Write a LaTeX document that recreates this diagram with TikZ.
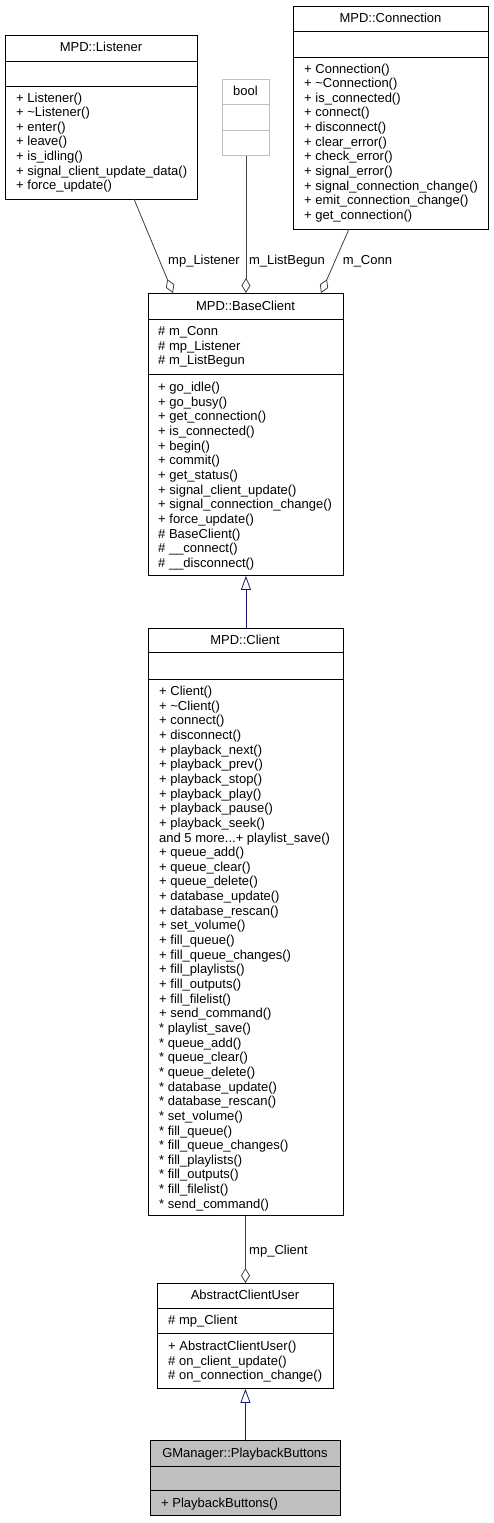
\documentclass[tikz,border=0pt]{standalone}
\usepackage{fontspec}
\setmainfont{Liberation Sans}
\usetikzlibrary{arrows.meta}
\definecolor{edgegray}{HTML}{404040}
\definecolor{inhblue}{HTML}{191970}
\definecolor{boolgray}{HTML}{BFBFBF}
\definecolor{hlgray}{HTML}{BFBFBF}
\newcommand\memlist[4]{%
  \foreach \t [count=\i] in {#4} {\node[mem] (#1\i) at (#2, {#3+(\i-1)*14.65}) {\t};}}
\begin{document}
\begin{tikzpicture}[x=1pt,y=-1pt,
  box/.style={draw=black,fill=white,line width=0.9pt,inner sep=0,anchor=north west},
  divl/.style={line width=0.9pt},
  mem/.style={font=\fontsize{13}{14}\selectfont,anchor=base west,inner sep=0},
  ttl/.style={font=\fontsize{13}{14}\selectfont,anchor=base,inner sep=0},
  lbl/.style={font=\fontsize{13}{14}\selectfont,anchor=base,inner sep=0},
  comp/.style={draw=edgegray,line width=0.8pt,-{Diamond[open,length=15pt,width=9pt,line width=0.8pt]}},
  inh/.style={draw=inhblue,line width=0.8pt,-{Triangle[open,length=14pt,width=10pt,line width=0.8pt]}}]
\useasboundingbox (0,0) rectangle (493,1523);

% MPD::Listener
\node[box,minimum width=192pt,minimum height=164pt] (listener) at (5,35) {};
\draw[divl] (5,61) -- (197,61) (5,86) -- (197,86);
\node[ttl] (listenerT) at (101,51.5) {MPD::Listener};
\memlist{lm}{16}{102}{+ Listener(),+ \textasciitilde{}Listener(),+ enter(),+ leave(),+ is\_idling(),+ signal\_client\_update\_data(),+ force\_update()}

% bool
\node[box,draw=boolgray,minimum width=47pt,minimum height=76pt] (bool) at (222,79) {};
\draw[divl,boolgray] (222,104.5) -- (269,104.5) (222,130) -- (269,130);
\node[ttl] (boolT) at (245.5,95.5) {bool};

% MPD::Connection
\node[box,minimum width=195pt,minimum height=223pt] (conn) at (293,6) {};
\draw[divl] (293,31) -- (488,31) (293,57) -- (488,57);
\node[ttl] (connT) at (390.5,22) {MPD::Connection};
\memlist{cm}{304}{73}{+ Connection(),+ \textasciitilde{}Connection(),+ is\_connected(),+ connect(),+ disconnect(),+ clear\_error(),+ check\_error(),+ signal\_error(),+ signal\_connection\_change(),+ emit\_connection\_change(),+ get\_connection()}

% MPD::BaseClient
\node[box,minimum width=195pt,minimum height=282pt] (base) at (148,293) {};
\draw[divl] (148,319) -- (343,319) (148,374) -- (343,374);
\node[ttl] (baseT) at (245.5,310.5) {MPD::BaseClient};
\memlist{ba}{158}{335.5}{\# m\_Conn,\# mp\_Listener,\# m\_ListBegun}
\memlist{bm}{158}{391.5}{+ go\_idle(),+ go\_busy(),+ get\_connection(),+ is\_connected(),+ begin(),+ commit(),+ get\_status(),+ signal\_client\_update(),+ signal\_connection\_change(),+ force\_update(),\# BaseClient(),\# \_\_connect(),\# \_\_disconnect()}

% MPD::Client
\node[box,minimum width=195pt,minimum height=587pt] (client) at (147.5,628) {};
\draw[divl] (147.5,652) -- (342.5,652) (147.5,679) -- (342.5,679);
\node[ttl] (clientT) at (245,644.5) {MPD::Client};
\memlist{clm}{159}{695.5}{+ Client(),+ \textasciitilde{}Client(),+ connect(),+ disconnect(),+ playback\_next(),+ playback\_prev(),+ playback\_stop(),+ playback\_play(),+ playback\_pause(),+ playback\_seek(),{and 5 more.{}.{}.+ playlist\_save()},+ queue\_add(),+ queue\_clear(),+ queue\_delete(),+ database\_update(),+ database\_rescan(),+ set\_volume(),+ fill\_queue(),+ fill\_queue\_changes(),+ fill\_playlists(),+ fill\_outputs(),+ fill\_filelist(),+ send\_command(),* playlist\_save(),* queue\_add(),* queue\_clear(),* queue\_delete(),* database\_update(),* database\_rescan(),* set\_volume(),* fill\_queue(),* fill\_queue\_changes(),* fill\_playlists(),* fill\_outputs(),* fill\_filelist(),* send\_command()}

% AbstractClientUser
\node[box,minimum width=176pt,minimum height=105pt] (acu) at (157,1283) {};
\draw[divl] (157,1308) -- (333,1308) (157,1333) -- (333,1333);
\node[ttl] (acuT) at (245,1299.5) {AbstractClientUser};
\memlist{aa}{168}{1324.5}{\# mp\_Client}
\memlist{am}{168}{1350.5}{+ AbstractClientUser(),\# on\_client\_update(),\# on\_connection\_change()}

% GManager::PlaybackButtons
\node[box,fill=hlgray,minimum width=190pt,minimum height=75pt] (pb) at (150,1440) {};
\draw[divl] (150,1466) -- (340,1466) (150,1490) -- (340,1490);
\node[ttl] (pbT) at (245,1457.5) {GManager::PlaybackButtons};
\memlist{pm}{161}{1507.5}{+ PlaybackButtons()}

% connectors
\coordinate (lisOut) at (134,199);
\coordinate (baseInL) at (173,293);
\coordinate (connOut) at (349,229);
\coordinate (baseInR) at (321,293);
\draw[comp] (lisOut) -- (baseInL);
\draw[comp] (bool.south) -- (bool.south |- base.north);
\draw[comp] (connOut) -- (baseInR);
\node[lbl] (l1) at (204,264.5) {mp\_Listener};
\node[lbl] (l2) at (287,264.5) {m\_ListBegun};
\node[lbl] (l3) at (367.5,264.5) {m\_Conn};

\draw[inh] (client.north -| base.south) -- (base.south);
\draw[comp] (client.south) -- (client.south |- acu.north);
\node[lbl] (l4) at (278.5,1254) {mp\_Client};
\draw[inh] (pb.north) -- (pb.north |- acu.south);
\end{tikzpicture}
\end{document}
